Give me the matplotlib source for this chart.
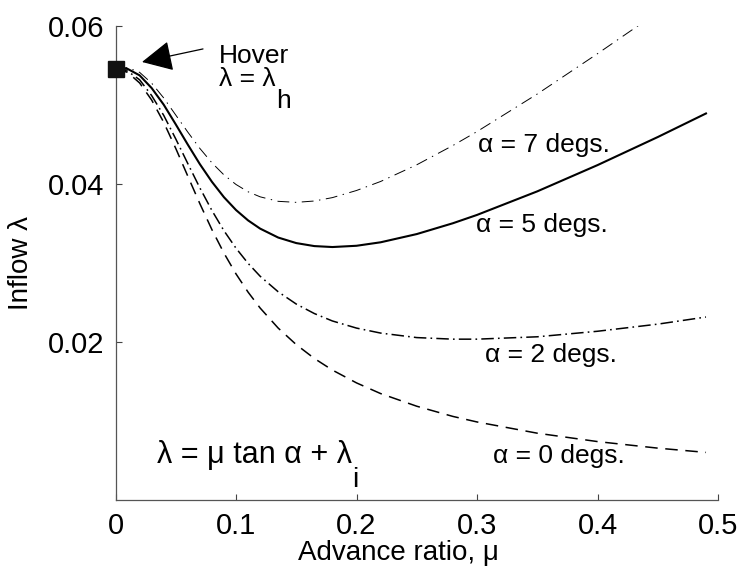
import numpy as np
import matplotlib
matplotlib.use('Agg')
from matplotlib import pyplot as plt

plt.rcParams['font.family'] = ['Liberation Sans', 'DejaVu Sans']
plt.rcParams['lines.scale_dashes'] = False

# advance ratio values and inflow
mu = [0, 0.01, 0.02, 0.03, 0.04, 0.05, 0.06, 0.07, 0.08, 0.09, 0.10, 0.11,
      0.12, 0.135, 0.15, 0.165, 0.18, 0.20, 0.22, 0.25, 0.28, 0.30, 0.35,
      0.40, 0.45, 0.49]
lam_a0 = [0.0546, 0.05414, 0.05280, 0.05064, 0.04782, 0.04452, 0.04101,
          0.03753, 0.03425, 0.03128, 0.02865, 0.02635, 0.02434, 0.02180,
          0.01971, 0.01796, 0.01649, 0.01487, 0.01352, 0.01192, 0.01063,
          0.00993, 0.00851, 0.00745, 0.00662, 0.00608]
lam_a2 = [0.0546, 0.0543, 0.0532, 0.0512, 0.0487, 0.04572, 0.0426, 0.03953,
          0.03667, 0.03411, 0.0319, 0.02999, 0.02836, 0.02639, 0.02484,
          0.02364, 0.0227, 0.0218, 0.02117, 0.0206, 0.0204, 0.0204, 0.0207,
          0.0214, 0.0223, 0.0232]
lam_a5 = [0.0546, 0.05458, 0.05376, 0.05215, 0.05005, 0.04756, 0.0450,
          0.04253, 0.0403, 0.03835, 0.03673, 0.03542, 0.03438, 0.03325,
          0.03255, 0.03217, 0.03205, 0.03221, 0.03265, 0.03369, 0.03506,
          0.03611, 0.03909, 0.04241, 0.04596, 0.04894]
mu_a7 = [0, 0.01, 0.02, 0.03, 0.04, 0.05, 0.06, 0.07, 0.08, 0.09, 0.10, 0.11,
         0.12, 0.135, 0.15, 0.165, 0.18, 0.20, 0.22, 0.25, 0.28, 0.30, 0.35,
         0.40, 0.42, 0.44]
lam_a7 = [0.0546, 0.05475, 0.05414, 0.05277, 0.0509, 0.04874, 0.04658,
          0.04452, 0.0427, 0.04117, 0.03996, 0.03904, 0.0384, 0.03783, 0.0377,
          0.03787, 0.0383, 0.0392, 0.04034, 0.04245, 0.04489, 0.04665, 0.0514,
          0.0565, 0.0586, 0.0607]
lam_hover = 0.0546

xticks = [0, 0.1, 0.2, 0.3, 0.4, 0.5]
xtick_labels = ['0', '0.1', '0.2', '0.3', '0.4', '0.5']
yticks = [0.02, 0.04, 0.06]
ytick_labels = ['0.02', '0.04', '0.06']

fig = plt.figure(figsize=(7.4, 5.69), dpi=100)
ax = fig.add_axes([0.1561, 0.1204, 0.8142, 0.8339])

ax.plot(mu, lam_a0, color='black', lw=1.1, dashes=(9, 5.5))
ax.plot(mu, lam_a2, color='black', lw=1.1, dashes=(9, 3, 1.2, 3))
ax.plot(mu, lam_a5, color='black', lw=1.5)
ax.plot(mu_a7, lam_a7, color='black', lw=0.7, dashes=(8.5, 4, 1, 4))
ax.plot([0], [lam_hover], 's', color='#111111', ms=11, clip_on=False, zorder=5)

ax.set_xlim(0, 0.5)
ax.set_ylim(0, 0.06)
ax.set_xticks(xticks)
ax.set_xticklabels(xtick_labels)
ax.set_yticks(yticks)
ax.set_yticklabels(ytick_labels)
ax.tick_params(direction='in', length=4, width=0.8, color='#444444',
               labelsize=21, pad=8)
for s in ['top', 'right']:
    ax.spines[s].set_visible(False)
for s in ['left', 'bottom']:
    ax.spines[s].set_color('#555555')
    ax.spines[s].set_linewidth(0.9)

ax.set_xlabel('Advance ratio, \u03bc', fontsize=20)
ax.xaxis.set_label_coords(0.47, -0.083)
ax.set_ylabel('Inflow \u03bb', fontsize=20, labelpad=10)

# hover annotation
ax.annotate('', xy=(0.022, 0.05545), xytext=(0.0726, 0.0571),
            arrowprops=dict(arrowstyle='-|>', mutation_scale=48, color='black',
                            lw=0.9, shrinkA=0, shrinkB=0))
ax.text(0.0859, 0.0553, 'Hover', fontsize=19, va='baseline')
t = ax.text(0.0859, 0.05245, '\u03bb = \u03bb', fontsize=19, va='baseline')
ax.annotate('h', xy=(1, 0), xycoords=t, xytext=(0, 1), textcoords='offset points',
            fontsize=19, va='top', ha='left')

t2 = ax.text(0.0344, 0.00474, '\u03bb = \u03bc tan \u03b1 + \u03bb', fontsize=22,
             va='baseline')
ax.annotate('i', xy=(1, 0), xycoords=t2, xytext=(0, 2), textcoords='offset points',
            fontsize=20, va='top', ha='left')

ax.text(0.3008, 0.04407, '\u03b1 = 7 degs.', fontsize=19, va='baseline')
ax.text(0.2992, 0.03395, '\u03b1 = 5 degs.', fontsize=19, va='baseline')
ax.text(0.3066, 0.01751, '\u03b1 = 2 degs.', fontsize=19, va='baseline')
ax.text(0.3133, 0.00474, '\u03b1 = 0 degs.', fontsize=19, va='baseline')

fig.savefig('out.png', dpi=100)
